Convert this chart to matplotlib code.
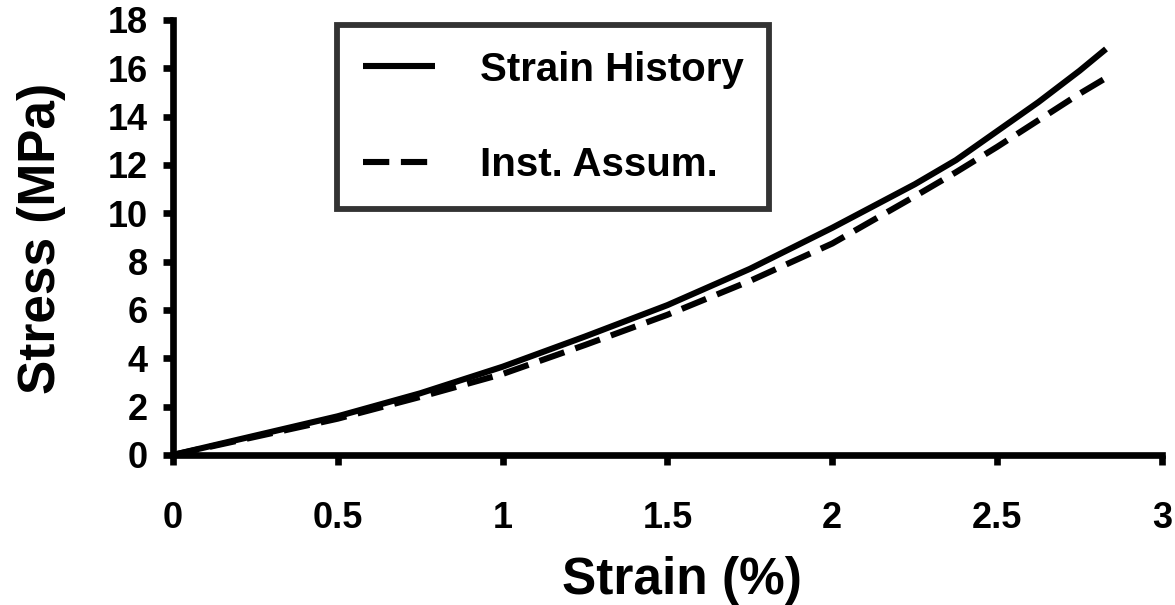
import matplotlib
matplotlib.use("Agg")
import matplotlib.pyplot as plt
from matplotlib.ticker import FormatStrFormatter

# --- data: stress-strain response, two model assumptions ---
strain = [0, 0.25, 0.5, 0.75, 1.0, 1.25, 1.5, 1.75, 2.0, 2.25, 2.375, 2.5, 2.625, 2.75, 2.83]
strain_history = [0, 0.8, 1.6, 2.55, 3.65, 4.9, 6.2, 7.7, 9.4, 11.2, 12.2, 13.4, 14.6, 15.9, 16.8]
inst_assum = [0, 0.75, 1.5, 2.4, 3.35, 4.55, 5.8, 7.2, 8.75, 10.7, 11.7, 12.75, 13.85, 14.95, 15.6]

series_labels = ["Strain History", "Inst. Assum."]
x_ticks = [0, 0.5, 1, 1.5, 2, 2.5, 3]
y_ticks = list(range(0, 19, 2))

plt.rcParams["font.family"] = ["Liberation Sans", "DejaVu Sans"]
plt.rcParams["font.weight"] = "bold"

fig = plt.figure(figsize=(11.75, 6.05), dpi=100)
ax = fig.add_axes([0.147, 0.248, 0.842, 0.719])

lw = 4.4
ax.plot(strain, strain_history, color="black", lw=lw, solid_capstyle="butt",
        solid_joinstyle="round", clip_on=False, label=series_labels[0])
ax.plot(strain, inst_assum, color="black", lw=lw, linestyle=(0, (4.3, 1.9)),
        clip_on=False, label=series_labels[1])

ax.set_xlim(0, 3)
ax.set_ylim(0, 18)
ax.set_xticks(x_ticks)
ax.set_yticks(y_ticks)
ax.xaxis.set_major_formatter(FormatStrFormatter("%g"))

for side in ("top", "right"):
    ax.spines[side].set_visible(False)
for side in ("left", "bottom"):
    ax.spines[side].set_linewidth(4.8)

ax.tick_params(axis="both", direction="out", length=7, width=4.8,
               labelsize=26)
ax.tick_params(axis="x", pad=26)
ax.tick_params(axis="y", pad=11)

ax.set_xlabel("Strain (%)", fontsize=37, fontweight="bold")
ax.set_ylabel("Stress (MPa)", fontsize=37, fontweight="bold")
ax.xaxis.set_label_coords(0.515, -0.232)
ax.yaxis.set_label_coords(-0.108, 0.497)

# boxed legend, upper left inside the axes
leg = ax.legend(loc="upper left", bbox_to_anchor=(0.166, 0.989),
                fontsize=29, frameon=True, fancybox=False,
                borderpad=0.64, labelspacing=1.42, handlelength=1.8,
                handletextpad=1.1, borderaxespad=0)
leg.get_frame().set_edgecolor("black")
leg.get_frame().set_linewidth(4.2)
for t in leg.get_texts():
    t.set_fontweight("bold")

fig.savefig("out.png", dpi=100)
